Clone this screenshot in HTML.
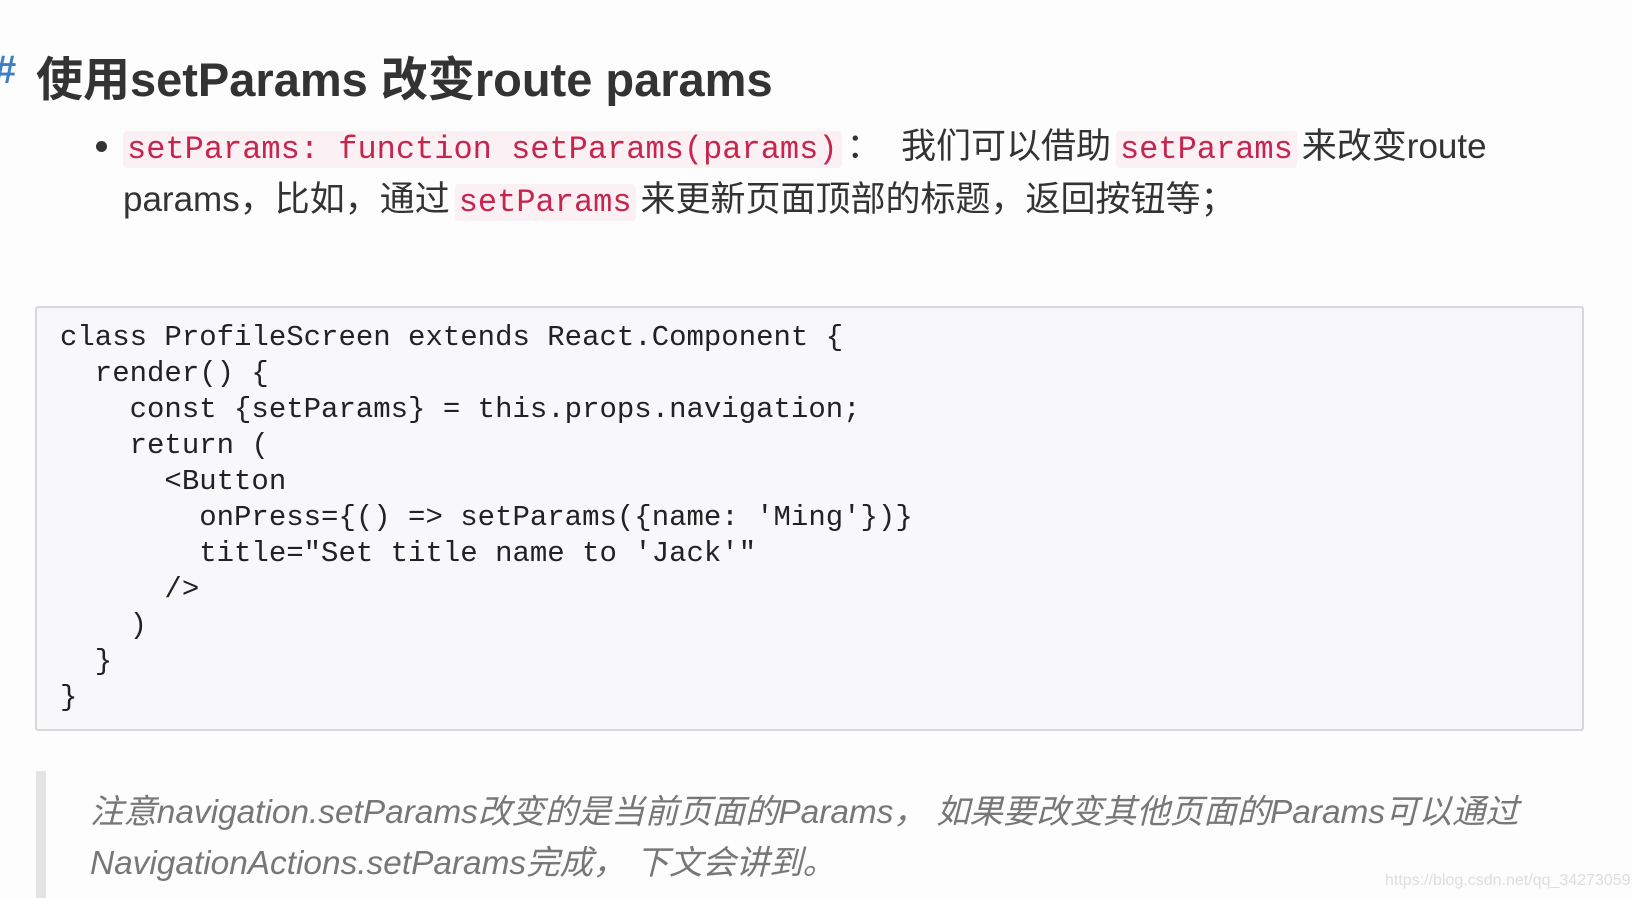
<!DOCTYPE html>
<html><head><meta charset="utf-8"><style>
body{margin:0;width:1632px;height:898px;background:#fdfdfd;overflow:hidden;position:relative;font-family:"Liberation Sans","Noto Sans CJK SC",sans-serif;color:#333}
.a{position:absolute;white-space:nowrap}
.c{font-family:"Liberation Mono","Noto Sans CJK SC",monospace;color:#c7254e;background:#fbf0f3;padding:0 4px;margin:0 5px;border-radius:4px}
</style></head><body>
<div class="a" style="left:-6px;top:48px;font-size:40px;font-weight:bold;color:#3b7fc4">#</div>
<div class="a" style="left:36px;top:41px;font-size:47px;font-weight:bold;color:#333">使用setParams 改变route params</div>
<div class="a" style="left:96px;top:141px;width:11px;height:11px;border-radius:50%;background:#333"></div>
<div class="a" style="left:123px;top:126px;font-size:35px;line-height:42px"><span class="c" style="font-size:32px;margin-left:0">setParams: function setParams(params)</span>：&nbsp; 我们可以借助<span class="c" style="font-size:32px">setParams</span>来改变route</div>
<div class="a" style="left:123px;top:179px;font-size:35px;line-height:42px">params，比如，通过<span class="c" style="font-size:32px">setParams</span>来更新页面顶部的标题，返回按钮等；</div>
<div class="a" style="left:35px;top:306px;width:1545px;height:421px;background:#f8f7f9;border:2px solid #d8d8d8;border-radius:3px"></div>
<pre class="a" style="left:60px;top:320px;margin:0;white-space:pre;font-family:'Liberation Mono',monospace;font-size:29px;line-height:36px;color:#222">class ProfileScreen extends React.Component {
  render() {
    const {setParams} = this.props.navigation;
    return (
      &lt;Button
        onPress={() =&gt; setParams({name: 'Ming'})}
        title="Set title name to 'Jack'"
      /&gt;
    )
  }
}</pre>
<div class="a" style="left:36px;top:771px;width:10px;height:127px;background:#e4e4e4"></div>
<div class="a" style="left:90px;top:787px;font-size:33.4px;font-style:italic;color:#777;line-height:51px">注意navigation.setParams改变的是当前页面的Params，&nbsp;如果要改变其他页面的Params可以通过<br>NavigationActions.setParams完成，&nbsp;下文会讲到。</div>
<div class="a" style="left:1385px;top:872px;font-size:16px;color:#ddd">https://blog.csdn.net/qq_34273059</div>
</body></html>
